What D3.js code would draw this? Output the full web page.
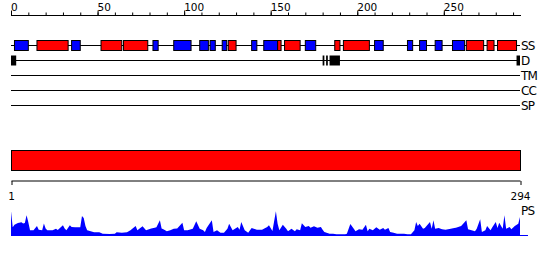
<!DOCTYPE html>
<html>
<head>
<meta charset="utf-8">
<script src="https://cdn.jsdelivr.net/npm/d3@7"></script>
<style>
  body { margin: 0; background: #fff; }
  svg { display: block; font-family: "DejaVu Sans", sans-serif; }
</style>
</head>
<body>
<div id="svg-container"></div>
<script>
"use strict";
const seqLength = 294;
const trackNames = ["SS", "D", "TM", "CC", "SP"];
const helixSegments = [[15, 33], [52, 64], [65, 79], [125.5, 130], [154, 156], [158, 167], [187, 190], [192, 207], [263, 273], [275, 279], [281, 292]];
const strandSegments = [[2, 10], [35, 40], [82, 85], [94, 104], [109, 114], [115, 118], [122, 124.6], [139, 142], [146, 154], [170, 176], [210, 215], [229, 232], [236, 240], [245, 249], [255, 262]];
const disorderSegments = [[0, 3], [180, 181], [182, 183], [184, 190], [292, 294]];
const domainSegments = [[1, 294]];
const psPos = [0, 1, 2, 4, 6, 7, 8, 9, 10, 11, 13, 15, 16, 18, 19, 20, 21, 24, 26, 27, 30, 31, 32, 34, 35, 37, 40, 41, 42, 43, 44, 46, 48, 51, 53, 57, 60, 61, 64, 67, 69, 72, 73, 76, 78, 81, 83, 84, 86, 87, 88, 90, 92, 94, 96, 99, 100, 102, 105, 107, 109, 111, 112, 113, 116, 117, 119, 121, 123, 125, 126, 128, 131, 132, 133, 135, 137, 139, 142, 145, 148, 149, 151, 153, 154, 155, 157, 159, 160, 162, 164, 165, 167, 168, 170, 172, 173, 175, 177, 179, 180, 181, 184, 186, 188, 193, 194, 196, 198, 199, 201, 203, 205, 206, 207, 209, 211, 213, 215, 216, 218, 219, 221, 223, 227, 229, 231, 233, 234, 235, 236, 238, 239, 242, 243, 244, 245, 247, 249, 251, 254, 256, 257, 260, 263, 264, 266, 268, 269, 271, 272, 274, 275, 277, 278, 280, 281, 282, 284, 285, 286, 288, 289, 291, 293, 294];
const psVal = [0.99, 0.35, 0.45, 0.52, 0.55, 0.50, 0.52, 0.83, 0.55, 0.23, 0.23, 0.40, 0.25, 0.23, 0.50, 0.30, 0.23, 0.23, 0.29, 0.24, 0.43, 0.30, 0.23, 0.43, 0.36, 0.35, 0.35, 0.80, 0.72, 0.40, 0.23, 0.19, 0.15, 0.15, 0.09, 0.08, 0.09, 0.15, 0.13, 0.15, 0.23, 0.40, 0.23, 0.39, 0.23, 0.30, 0.33, 0.35, 0.63, 0.30, 0.27, 0.19, 0.23, 0.29, 0.30, 0.53, 0.23, 0.23, 0.29, 0.59, 0.29, 0.23, 0.16, 0.32, 0.63, 0.16, 0.23, 0.13, 0.13, 0.29, 0.49, 0.23, 0.36, 0.25, 0.56, 0.23, 0.13, 0.32, 0.25, 0.25, 0.36, 0.43, 0.20, 0.99, 0.49, 0.23, 0.45, 0.29, 0.19, 0.29, 0.19, 0.27, 0.23, 0.51, 0.36, 0.40, 0.33, 0.39, 0.33, 0.36, 0.25, 0.16, 0.09, 0.09, 0.07, 0.07, 0.09, 0.48, 0.29, 0.19, 0.27, 0.25, 0.45, 0.19, 0.29, 0.23, 0.35, 0.25, 0.32, 0.25, 0.32, 0.16, 0.13, 0.09, 0.09, 0.07, 0.07, 0.23, 0.56, 0.40, 0.49, 0.29, 0.32, 0.56, 0.29, 0.63, 0.29, 0.32, 0.27, 0.25, 0.29, 0.32, 0.33, 0.40, 0.63, 0.27, 0.23, 0.19, 0.29, 0.67, 0.16, 0.23, 0.40, 0.23, 0.35, 0.56, 0.32, 0.53, 0.29, 0.83, 0.29, 0.36, 0.27, 0.40, 0.49, 0.76];

const svgWidth = 550;
const svgHeight = 260;
const left = 11;
const right = 520;
const svg = d3.select("#svg-container")
    .append("svg")
    .attr("width", svgWidth)
    .attr("height", svgHeight);

const x = d3.scaleLinear().domain([0, seqLength]).range([left, right]);
const x1 = d3.scaleLinear().domain([1, seqLength]).range([left, right]);

// ruler
const rulerY = 15.5;
svg.append("g")
    .attr("transform", `translate(0, ${rulerY})`)
    .call(d3.axisTop(x).tickValues(d3.range(0, seqLength, 10)).tickSize(3).tickSizeOuter(0).tickFormat(""))
    .call(g => g.select(".domain").attr("d", `M${left},0H${right + 1}`));
svg.append("g")
    .attr("transform", `translate(0, ${rulerY})`)
    .call(d3.axisTop(x).tickValues(d3.range(0, seqLength, 50)).tickSize(5).tickSizeOuter(0))
    .call(g => g.select(".domain").remove())
    .call(g => g.selectAll("text")
        .attr("text-anchor", "start")
        .attr("x", -0.5)
        .attr("y", -4.5)
        .attr("dy", null)
        .attr("font-size", "10.5px")
        .attr("font-family", "DejaVu Sans, sans-serif")
        .attr("fill", "#000"));

// tracks
const trackY = d3.scalePoint().domain(trackNames).range([45, 105]);
const tracks = svg.append("g");
tracks.selectAll("line")
    .data(trackNames)
    .enter()
    .append("line")
    .attr("x1", left)
    .attr("x2", right)
    .attr("y1", d => trackY(d) + 0.5)
    .attr("y2", d => trackY(d) + 0.5)
    .attr("stroke", "#000");
tracks.selectAll("text")
    .data(trackNames)
    .enter()
    .append("text")
    .attr("x", right + 1)
    .attr("y", d => trackY(d) + 4.5)
    .attr("font-size", "12px")
    .attr("letter-spacing", "-0.8px")
    .text(d => d);

const boxH = 10;
const drawSegs = (data, track, fill, stroke) => {
    svg.append("g")
        .selectAll("rect")
        .data(data)
        .enter()
        .append("rect")
        .attr("x", d => x(d[0]))
        .attr("width", d => x(d[1]) - x(d[0]))
        .attr("y", trackY(track) - boxH / 2 + 0.5)
        .attr("height", boxH)
        .attr("fill", fill)
        .attr("stroke", stroke);
};
drawSegs(strandSegments, "SS", "#0000ff", "#000");
drawSegs(helixSegments, "SS", "#ff0000", "#000");
drawSegs(disorderSegments, "D", "#000", "none");

// domain bar
svg.append("g")
    .selectAll("rect")
    .data(domainSegments)
    .enter()
    .append("rect")
    .attr("x", d => x1(d[0]) + 0.5)
    .attr("width", d => x1(d[1]) - x1(d[0]))
    .attr("y", 150.5)
    .attr("height", 20)
    .attr("fill", "#ff0000")
    .attr("stroke", "#000");

svg.append("g")
    .attr("transform", "translate(0, 181)")
    .call(d3.axisBottom(x1).tickValues([1, seqLength]).tickSize(4).tickSizeOuter(0))
    .call(g => g.select(".domain").attr("d", `M${left + 0.5},0H${right + 0.5}`))
    .call(g => g.selectAll("line").attr("transform", "translate(0.5,0)"))
    .call(g => g.selectAll("text")
        .attr("y", 19)
        .attr("dy", null)
        .attr("font-size", "10.5px")
        .attr("font-family", "DejaVu Sans, sans-serif")
        .attr("fill", "#000"));

// PS profile
const psBase = 236;
const psY = d3.scaleLinear().domain([0, 1]).range([psBase, psBase - 25]);
svg.append("path")
    .datum(psPos.map((p, i) => [p, psVal[i]]))
    .attr("fill", "#0000ff")
    .attr("d", d3.area()
        .x(d => x(d[0]))
        .y0(psY(0))
        .y1(d => psY(d[1])));
svg.append("line")
    .attr("x1", left)
    .attr("x2", 528)
    .attr("y1", psBase - 0.5)
    .attr("y2", psBase - 0.5)
    .attr("stroke", "#0000ff");
svg.append("text")
    .attr("x", right + 1)
    .attr("y", 215)
    .attr("font-size", "12px")
    .attr("letter-spacing", "-0.8px")
    .text("PS");
</script>
</body>
</html>
